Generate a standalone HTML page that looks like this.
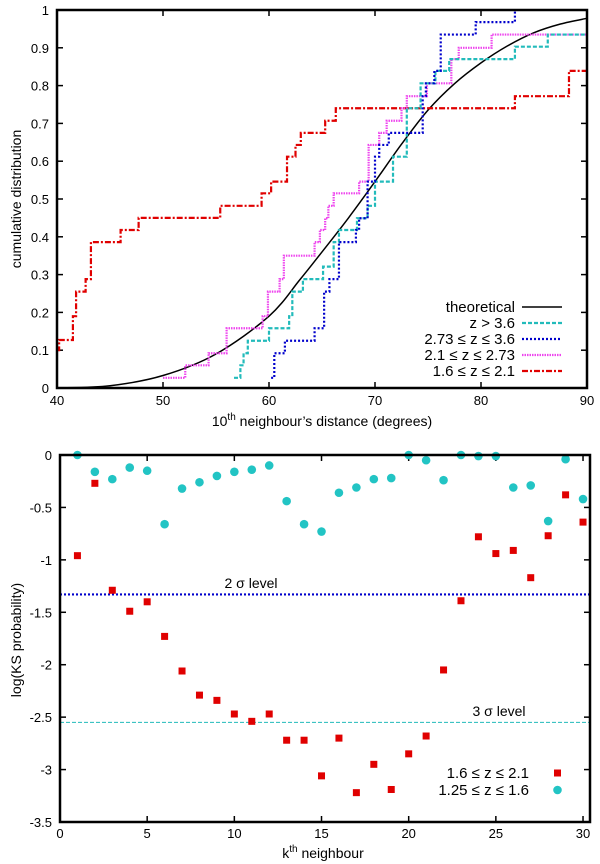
<!DOCTYPE html>
<html><head><meta charset="utf-8"><style>
body{margin:0;background:#fff;}
svg{display:block;font-family:"Liberation Sans",sans-serif;}
</style></head><body>
<svg id="fig" width="600" height="864" viewBox="0 0 600 864">
<g id="top"></g>
<g id="bot"></g>
</svg>
<script>
// ---- top chart data ----
const theoX=[40,45,50,55,60,62.9,65,67.5,70,72.5,75,77.5,80,82.5,85,87.5,90];
const theoY=[0,0.006,0.033,0.09,0.19,0.286,0.36,0.45,0.546,0.645,0.735,0.805,0.86,0.905,0.94,0.963,0.978];
const cyanX=[56.7,57.3,57.6,58.0,60.0,61.9,62.2,63.2,65.1,66.1,66.6,68.3,69.3,70.0,71.7,73.0,74.3,75.7,77.0,83.2,86.3,90];
const cyanY=[0.027,0.06,0.092,0.125,0.158,0.19,0.255,0.288,0.321,0.386,0.418,0.449,0.482,0.546,0.612,0.74,0.806,0.839,0.87,0.903,0.935,0.935];
const blueX=[60.2,60.5,61.5,63.5,64.3,65.2,65.7,66.6,68.2,68.5,69.3,70.0,70.4,71.3,74.5,74.8,75.6,76.2,79.5,83.2];
const blueY=[0.027,0.092,0.125,0.125,0.158,0.255,0.288,0.386,0.418,0.449,0.546,0.612,0.643,0.675,0.772,0.806,0.839,0.935,0.968,1.0];
const magX=[50.0,52.1,54.3,56.0,59.4,59.9,61.0,61.4,64.3,64.8,65.3,65.6,66.1,68.5,69.4,70.4,71.1,72.5,73.0,74.9,77.2,77.9,81.0,90];
const magY=[0.027,0.06,0.092,0.158,0.19,0.255,0.288,0.35,0.386,0.418,0.449,0.482,0.515,0.546,0.643,0.675,0.707,0.74,0.772,0.806,0.87,0.9,0.935,0.935];
const redX=[40,40.2,41.5,41.8,42.7,43.2,46.0,47.7,55.4,59.3,60.2,61.7,62.5,63.0,65.3,66.3,83.2,88.3,90];
const redY=[0.1,0.127,0.19,0.255,0.288,0.386,0.418,0.45,0.482,0.515,0.546,0.612,0.643,0.675,0.707,0.74,0.772,0.839,0.839];
const topXTicks=[40,50,60,70,80,90];
const topYTicks=[0,0.1,0.2,0.3,0.4,0.5,0.6,0.7,0.8,0.9,1];
// ---- bottom chart data ----
const ks=[1,2,3,4,5,6,7,8,9,10,11,12,13,14,15,16,17,18,19,20,21,22,23,24,25,26,27,28,29,30];
const redKS=[-0.96,-0.27,-1.29,-1.49,-1.40,-1.73,-2.06,-2.29,-2.34,-2.47,-2.54,-2.47,-2.72,-2.72,-3.06,-2.70,-3.22,-2.95,-3.19,-2.85,-2.68,-2.05,-1.39,-0.78,-0.94,-0.91,-1.17,-0.77,-0.38,-0.64];
const cyanKS=[0,-0.16,-0.23,-0.12,-0.15,-0.66,-0.32,-0.26,-0.20,-0.16,-0.14,-0.10,-0.44,-0.66,-0.73,-0.36,-0.31,-0.23,-0.22,0,-0.05,-0.24,0,-0.01,-0.01,-0.31,-0.29,-0.63,-0.04,-0.42];
const sigma2=-1.33, sigma3=-2.55;
const botXTicks=[0,5,10,15,20,25,30];
const botYTicks=[0,-0.5,-1,-1.5,-2,-2.5,-3,-3.5];

const NS="http://www.w3.org/2000/svg";
function mk(parent,tag,attrs){const e=document.createElementNS(NS,tag);for(const k in attrs)e.setAttribute(k,attrs[k]);parent.appendChild(e);return e;}
function txt(parent,x,y,s,anchor,size){const t=mk(parent,'text',{x:x,y:y,'text-anchor':anchor||'middle','font-size':size||14});t.textContent=s;return t;}

// ===== TOP =====
const T=document.getElementById('top');
const L1=57,R1=587,T1=10,B1=388;
const tx=v=>L1+(v-40)/50*(R1-L1);
const ty=v=>B1-v*(B1-T1);
topYTicks.forEach(v=>{
  const a=mk(T,'line',{x1:L1,x2:L1+6,y1:ty(v),y2:ty(v),stroke:'#000','stroke-width':1.5});
  
  const b=mk(T,'line',{x1:R1,x2:R1-6,y1:ty(v),y2:ty(v),stroke:'#000','stroke-width':1.5});
  
  const t=txt(T,L1-8,ty(v)+5,String(v),'end',13);
  
});
topXTicks.forEach(v=>{
  const a=mk(T,'line',{x1:tx(v),x2:tx(v),y1:B1,y2:B1-6,stroke:'#000','stroke-width':1.5});
  
  const b=mk(T,'line',{x1:tx(v),x2:tx(v),y1:T1,y2:T1+6,stroke:'#000','stroke-width':1.5});
  
  const t=txt(T,tx(v),405,String(v),'middle',13);
  
});
(function(){
  let d='M'+tx(theoX[0])+','+ty(theoY[0]);
  for(let i=0;i<theoX.length-1;i++){
    const p0=[tx(theoX[Math.max(i-1,0)]),ty(theoY[Math.max(i-1,0)])],p1=[tx(theoX[i]),ty(theoY[i])],p2=[tx(theoX[i+1]),ty(theoY[i+1])],p3=[tx(theoX[Math.min(i+2,theoX.length-1)]),ty(theoY[Math.min(i+2,theoX.length-1)])];
    const c1=[p1[0]+(p2[0]-p0[0])/6,p1[1]+(p2[1]-p0[1])/6],c2=[p2[0]-(p3[0]-p1[0])/6,p2[1]-(p3[1]-p1[1])/6];
    d+=` C${c1[0]},${c1[1]} ${c2[0]},${c2[1]} ${p2[0]},${p2[1]}`;
  }
  const p=mk(T,'path',{d:d,fill:'none',stroke:'#000','stroke-width':1.5});
  
})();
function steps(xs,ys,color,dash,name){
  let d='M'+tx(xs[0])+','+ty(ys[0]);
  for(let i=1;i<xs.length;i++){d+=' H'+tx(xs[i])+' V'+ty(ys[i]);}
  const p=mk(T,'path',{d:d,fill:'none',stroke:color,'stroke-width':2.2,'stroke-dasharray':dash});
  
}
steps(redX,redY,'#e00000','6,2,2,2','series-1.6-2.1');
steps(magX,magY,'#ee44ee','1.5,1','series-2.1-2.73');
steps(cyanX,cyanY,'#22bbbb','4,2','series-z-gt-3.6');
steps(blueX,blueY,'#0000cc','2,2','series-2.73-3.6');
const f1=mk(T,'rect',{x:L1,y:T1,width:R1-L1,height:B1-T1,fill:'none',stroke:'#000','stroke-width':2.5});

const legTop=[['theoretical','#000','none'],['z > 3.6','#22bbbb','4,2'],['2.73 ≤ z ≤ 3.6','#0000cc','2,2'],['2.1 ≤ z ≤ 2.73','#ee44ee','1.5,1'],['1.6 ≤ z ≤ 2.1','#e00000','6,2,2,2']];
legTop.forEach((e,i)=>{
  const y=307+i*16;
  const t=txt(T,515,y+5,e[0],'end',15);
  
  const l=mk(T,'line',{x1:522,x2:562,y1:y,y2:y,stroke:e[1],'stroke-width':e[2]==='none'?1.5:2.2,'stroke-dasharray':e[2]});
  
});
const xl1=mk(T,'text',{x:322,y:426,'text-anchor':'middle','font-size':14});
xl1.innerHTML='10<tspan font-size="10" dy="-6">th</tspan><tspan dy="6"> neighbour’s distance (degrees)</tspan>';

const yl1=txt(T,0,0,'cumulative distribution','middle',14);
yl1.setAttribute('transform','translate(21,199) rotate(-90)');


// ===== BOTTOM =====
const B=document.getElementById('bot');
const L2=60,R2=590,T2=455,B2=822;
const bx=v=>L2+v/30.4*(R2-L2);
const by=v=>T2+(-v)/3.5*(B2-T2);
botYTicks.forEach(v=>{
  const a=mk(B,'line',{x1:L2,x2:L2+6,y1:by(v),y2:by(v),stroke:'#000','stroke-width':1.5});
  
  const b=mk(B,'line',{x1:R2,x2:R2-6,y1:by(v),y2:by(v),stroke:'#000','stroke-width':1.5});
  
  const t=txt(B,L2-8,by(v)+5,String(v),'end',13);
  
});
botXTicks.forEach(v=>{
  const a=mk(B,'line',{x1:bx(v),x2:bx(v),y1:B2,y2:B2-6,stroke:'#000','stroke-width':1.5});
  
  const b=mk(B,'line',{x1:bx(v),x2:bx(v),y1:T2,y2:T2+6,stroke:'#000','stroke-width':1.5});
  
  const t=txt(B,bx(v),838,String(v),'middle',13);
  
});
const s2=mk(B,'line',{x1:L2,x2:R2,y1:by(sigma2),y2:by(sigma2),stroke:'#0000cc','stroke-width':2.2,'stroke-dasharray':'2,2'});

const s3=mk(B,'line',{x1:L2,x2:R2,y1:by(sigma3),y2:by(sigma3),stroke:'#22bbbb','stroke-width':1,'stroke-dasharray':'4,2'});

const t2=txt(B,251,588,'2 σ level','middle',14);

const t3=txt(B,499,716,'3 σ level','middle',14);

ks.forEach((k,i)=>{
  const c=mk(B,'circle',{cx:bx(k),cy:by(cyanKS[i]),r:4.3,fill:'#22c4c4'});
  
});
ks.forEach((k,i)=>{
  const r=mk(B,'rect',{x:bx(k)-3.5,y:by(redKS[i])-3.5,width:7,height:7,fill:'#e00000'});
  
});
const f2=mk(B,'rect',{x:L2,y:T2,width:R2-L2,height:B2-T2,fill:'none',stroke:'#000','stroke-width':2.5});

const lg1=txt(B,529,778,'1.6 ≤ z ≤ 2.1','end',15);

const lm1=mk(B,'rect',{x:554,y:769.5,width:7,height:7,fill:'#e00000'});

const lg2=txt(B,529,795,'1.25 ≤ z ≤ 1.6','end',15);

const lm2=mk(B,'circle',{cx:557.5,cy:790,r:4.3,fill:'#22c4c4'});

const xl2=mk(B,'text',{x:323,y:858,'text-anchor':'middle','font-size':14});
xl2.innerHTML='k<tspan font-size="10" dy="-6">th</tspan><tspan dy="6">  neighbour</tspan>';

const yl2=txt(B,0,0,'log(KS probability)','middle',14);
yl2.setAttribute('transform','translate(21,640) rotate(-90)');

</script>
</body></html>
